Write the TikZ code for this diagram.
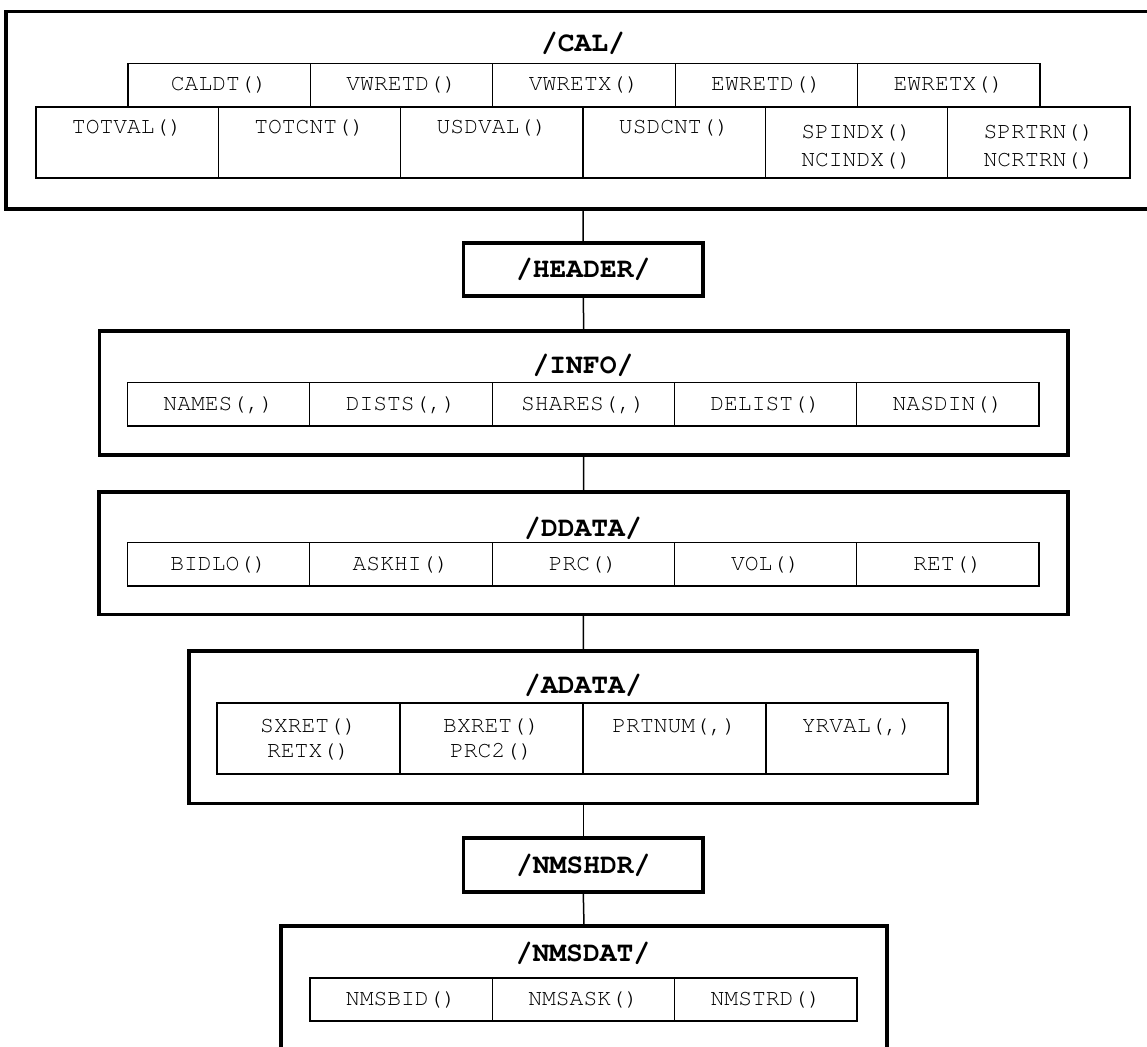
\documentclass[tikz,border=0pt]{standalone}
\usepackage{fontspec}
\setmonofont{TeX Gyre Cursor}
\tikzset{
  outerbox/.style={draw, line width=3.8pt, inner sep=0pt, outer sep=0pt},
  cellline/.style={draw, line width=1.1pt},
  celltxt/.style={font=\fontsize{23}{28}\selectfont\ttfamily, inner sep=0pt, align=center},
  ttl/.style={font=\fontsize{28}{32}\selectfont\ttfamily\bfseries, inner sep=0pt},
  conn/.style={line width=1.5pt}
}
% #1 name, #2 x1, #3 x2, #4 y1, #5 y2, #6 text y, #7 text
\newcommand{\mkcell}[7]{%
  \draw[cellline] (#2,#4) rectangle (#3,#5);
  \node[celltxt] (#1) at ({(#2+#3)/2},#6) {#7};}
\begin{document}
\begin{tikzpicture}[x=1pt,y=-1pt]
\useasboundingbox (0,0) rectangle (1147,1046);
% ---------- outer boxes ----------
\node[outerbox, minimum width=1154pt, minimum height=197.5pt] (cal) at (583,110.25) {};
\node[outerbox, ttl, minimum width=239.5pt, minimum height=53pt] (header) at (583.25,269.5) {/HEADER/};
\node[outerbox, minimum width=968.5pt, minimum height=124pt] (info) at (583.75,393) {};
\node[outerbox, minimum width=969pt, minimum height=122.5pt] (ddata) at (583.5,553.25) {};
\node[outerbox, minimum width=788.5pt, minimum height=152.5pt] (adata) at (583.25,727.25) {};
\node[outerbox, ttl, minimum width=239.5pt, minimum height=53.7pt] (nmshdr) at (583.25,864.85) {/NMSHDR/};
\node[outerbox, minimum width=606pt, minimum height=144pt] (nmsdat) at (584,998) {};
% ---------- titles ----------
\node[ttl] (tcal) at (583,43) {/CAL/};
\node[ttl] (tinfo) at (583,365) {/INFO/};
\node[ttl] (tddata) at (583,528) {/DDATA/};
\node[ttl] (tadata) at (583,685) {/ADATA/};
\node[ttl] (tnmsdat) at (583,953) {/NMSDAT/};
% ---------- CAL row 1 ----------
\mkcell{caldt}{128}{310.4}{63.5}{107}{85}{CALDT()}
\mkcell{vwretd}{310.4}{492.8}{63.5}{107}{85}{VWRETD()}
\mkcell{vwretx}{492.8}{675.2}{63.5}{107}{85}{VWRETX()}
\mkcell{ewretd}{675.2}{857.6}{63.5}{107}{85}{EWRETD()}
\mkcell{ewretx}{857.6}{1040}{63.5}{107}{85}{EWRETX()}
% ---------- CAL row 2 ----------
\mkcell{totval}{36}{218.3}{107}{178}{128}{TOTVAL()}
\mkcell{totcnt}{218.3}{400.7}{107}{178}{128}{TOTCNT()}
\mkcell{usdval}{400.7}{583}{107}{178}{128}{USDVAL()}
\mkcell{usdcnt}{583}{765.3}{107}{178}{128}{USDCNT()}
\mkcell{spindx}{765.3}{947.7}{107}{178}{147}{SPINDX()\\NCINDX()}
\mkcell{sprtrn}{947.7}{1130}{107}{178}{147}{SPRTRN()\\NCRTRN()}
% ---------- INFO ----------
\mkcell{names}{127.5}{309.8}{382.3}{426}{405}{NAMES(,)}
\mkcell{dists}{309.8}{492.1}{382.3}{426}{405}{DISTS(,)}
\mkcell{shares}{492.1}{674.4}{382.3}{426}{405}{SHARES(,)}
\mkcell{delist}{674.4}{856.7}{382.3}{426}{405}{DELIST()}
\mkcell{nasdin}{856.7}{1039}{382.3}{426}{405}{NASDIN()}
% ---------- DDATA ----------
\mkcell{bidlo}{127.5}{309.8}{542.7}{586}{565}{BIDLO()}
\mkcell{askhi}{309.8}{492.1}{542.7}{586}{565}{ASKHI()}
\mkcell{prc}{492.1}{674.4}{542.7}{586}{565}{PRC()}
\mkcell{vol}{674.4}{856.7}{542.7}{586}{565}{VOL()}
\mkcell{ret}{856.7}{1039}{542.7}{586}{565}{RET()}
% ---------- ADATA ----------
\mkcell{sxret}{217}{400}{703}{774}{739.5}{SXRET()\\[-3pt]RETX()}
\mkcell{bxret}{400}{583}{703}{774}{739.5}{BXRET()\\[-3pt]PRC2()}
\mkcell{prtnum}{583}{766}{703}{774}{727}{PRTNUM(,)}
\mkcell{yrval}{766}{948}{703}{774}{727}{YRVAL(,)}
% ---------- NMSDAT ----------
\mkcell{nmsbid}{310}{492.3}{978}{1021}{1000}{NMSBID()}
\mkcell{nmsask}{492.3}{674.7}{978}{1021}{1000}{NMSASK()}
\mkcell{nmstrd}{674.7}{857}{978}{1021}{1000}{NMSTRD()}
% ---------- connectors ----------
\draw[conn] (cal.south) -- (header.north);
\draw[conn] (header.south) -- (info.north);
\draw[conn] (info.south) -- (ddata.north);
\draw[conn] (ddata.south) -- (adata.north);
\draw[conn] (adata.south) -- (nmshdr.north);
\draw[conn] (nmshdr.south) -- (nmsdat.north);
\end{tikzpicture}
\end{document}
